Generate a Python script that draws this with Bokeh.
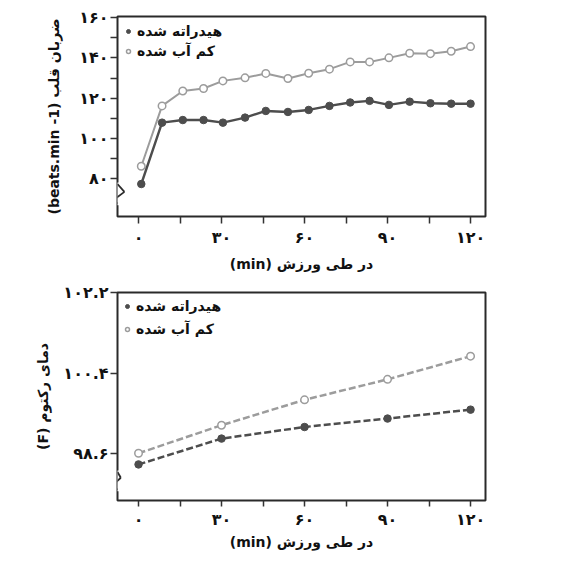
from bokeh.plotting import figure
from bokeh.models import Range1d, FixedTicker, Legend, LegendItem, Arrow
from bokeh.layouts import column
from bokeh.embed import file_html
from bokeh.resources import INLINE

# ---- data: heart rate ----
hr_time = [1, 8.5, 16, 23.5, 30.5, 38.5, 46, 54, 61.5, 69, 76.5, 83.5, 90.5, 98, 105.5, 113, 120]
hr_hydrated = [77.5, 107.9, 109.2, 109.2, 107.9, 110.4, 113.7, 113.2, 114.2, 116.2,
               117.9, 118.7, 116.7, 118.3, 117.5, 117.3, 117.3]
hr_dehydrated = [86.3, 116.2, 123.6, 124.8, 128.6, 130.1, 132.3, 129.8, 132.4, 134.4,
                 138.0, 138.0, 140.0, 142.3, 142.1, 143.3, 145.6]

# ---- data: rectal temperature ----
temp_time = [0, 30, 60, 90, 120]
temp_hydrated = [98.35, 98.93, 99.19, 99.38, 99.58]
temp_dehydrated = [98.6, 99.23, 99.80, 100.26, 100.78]

# ---- ticks / labels ----
x_ticks = [0, 30, 60, 90, 120]
x_minor = [15, 45, 75, 105]
x_labels = ["۰", "۳۰", "۶۰", "۹۰", "۱۲۰"]
hr_ticks = [80, 100, 120, 140, 160]
hr_minor = [90, 110, 130, 150]
hr_labels = ["۸۰", "۱۰۰", "۱۲۰", "۱۴۰", "۱۶۰"]
temp_ticks = [98.6, 100.4, 102.2]
temp_labels = ["۹۸.۶", "۱۰۰.۴", "۱۰۲.۲"]

series_labels = ["هیدراته شده", "کم آب شده"]
x_title = "(min) در طی ورزش"
hr_title = "(beats.min -1) ضربان قلب"
temp_title = "(F) دمای رکتوم"

FONT = "DejaVu Sans"
DARK = "#4d4d4d"
LIGHT = "#9c9c9c"


def style(p, yt, ym, ylabels, ytitle, x_tick_out, xt_standoff, xl_standoff, yl_standoff):
    p.outline_line_color = "#2a2a2a"
    p.outline_line_width = 2
    p.background_fill_color = "white"
    p.border_fill_color = "white"
    p.grid.visible = False
    for ax in (p.xaxis[0], p.yaxis[0]):
        ax.axis_line_color = None
        ax.major_tick_line_color = "#333333"
        ax.major_tick_line_width = 1.5
        ax.minor_tick_line_color = "#333333"
        ax.minor_tick_line_width = 1.5
        ax.major_tick_in = 0
        ax.minor_tick_in = 0
        ax.major_label_text_font = FONT
        ax.major_label_text_font_style = "bold"
        ax.major_label_text_font_size = "16px"
        ax.major_label_text_color = "#111111"
        ax.axis_label_text_font = FONT
        ax.axis_label_text_font_style = "bold"
        ax.axis_label_text_font_size = "14px"
        ax.axis_label_text_color = "#111111"
    xa, ya = p.xaxis[0], p.yaxis[0]
    xa.major_tick_out = x_tick_out
    xa.minor_tick_out = x_tick_out
    ya.major_tick_out = 7
    ya.minor_tick_out = 7
    xa.ticker = FixedTicker(ticks=x_ticks, minor_ticks=x_minor)
    xa.major_label_overrides = {t: l for t, l in zip(x_ticks, x_labels)}
    xa.axis_label = x_title
    xa.major_label_standoff = xt_standoff
    xa.axis_label_standoff = xl_standoff
    ya.ticker = FixedTicker(ticks=yt, minor_ticks=ym)
    ya.major_label_overrides = {t: l for t, l in zip(yt, ylabels)}
    ya.axis_label = ytitle
    ya.major_label_standoff = 2
    ya.axis_label_standoff = yl_standoff
    ya.major_label_orientation = "horizontal"


def add_break(p, x0, ys, dxs):
    p.add_layout(Arrow(end=None, x_start=x0, y_start=ys[0] + (ys[0] - ys[-1]) * 0.08,
                       x_end=x0, y_end=ys[-1] - (ys[0] - ys[-1]) * 0.08,
                       line_color="white", line_width=4))
    pts = [(x0 + dx, y) for dx, y in zip(dxs, ys)]
    for (xa, ya), (xb, yb) in zip(pts[:-1], pts[1:]):
        p.add_layout(Arrow(end=None, x_start=xa, y_start=ya, x_end=xb, y_end=yb,
                           line_color="#2a2a2a", line_width=1.8))


def add_legend(p, r1, r2, margin, padding, spacing):
    leg = Legend(items=[LegendItem(label=series_labels[0], renderers=[r1]),
                        LegendItem(label=series_labels[1], renderers=[r2])],
                 location="top_left", margin=margin, padding=padding, spacing=spacing,
                 glyph_width=10, glyph_height=18, label_height=18,
                 label_standoff=4, background_fill_alpha=0,
                 border_line_color=None,
                 label_text_font=FONT, label_text_font_style="bold",
                 label_text_font_size="14px", label_text_color="#111111")
    p.add_layout(leg)


X0 = -7.6

# ---------------- top: heart rate ----------------
p1 = figure(width=546, height=274, output_backend="svg", toolbar_location=None,
            x_range=Range1d(X0, 125.4), y_range=Range1d(61.4, 160.5),
            min_border_left=117, min_border_right=61,
            min_border_top=16, min_border_bottom=56)
style(p1, hr_ticks, hr_minor, hr_labels, hr_title, 7, 4, 6, 14)

p1.line(hr_time, hr_dehydrated, line_color=LIGHT, line_width=2)
r2 = p1.scatter(hr_time, hr_dehydrated, size=7.5, fill_color="white",
                line_color=LIGHT, line_width=1.5)
p1.line(hr_time, hr_hydrated, line_color=DARK, line_width=2.4)
r1 = p1.scatter(hr_time, hr_hydrated, size=7.5, fill_color=DARK,
                line_color=DARK, line_width=1)
add_legend(p1, r1, r2, 6, 3, 2)
add_break(p1, X0, [77.5, 73.6, 69.6, 67.7], [0, 2.5, -1.5, 0])

# ---------------- bottom: rectal temperature ----------------
p2 = figure(width=546, height=278, output_backend="svg", toolbar_location=None,
            x_range=Range1d(X0, 125.4), y_range=Range1d(97.54, 102.21),
            min_border_left=117, min_border_right=61,
            min_border_top=18, min_border_bottom=48)
style(p2, temp_ticks, [], temp_labels, temp_title, 6, 3, 2, 9)

p2.line(temp_time, temp_dehydrated, line_color=LIGHT, line_width=2.5, line_dash="7 3")
r4 = p2.scatter(temp_time, temp_dehydrated, size=7.5, fill_color="white",
                line_color=LIGHT, line_width=1.5)
p2.line(temp_time, temp_hydrated, line_color=DARK, line_width=2.5, line_dash="7 3")
r3 = p2.scatter(temp_time, temp_hydrated, size=7.5, fill_color=DARK,
                line_color=DARK, line_width=1)
add_legend(p2, r3, r4, 5, 2, 5)
add_break(p2, X0, [98.18, 98.05, 97.89, 97.78], [0, 1.2, -1.6, 0])

layout = column(p1, p2, spacing=0)
open("out.html", "w").write(file_html(layout, INLINE))
